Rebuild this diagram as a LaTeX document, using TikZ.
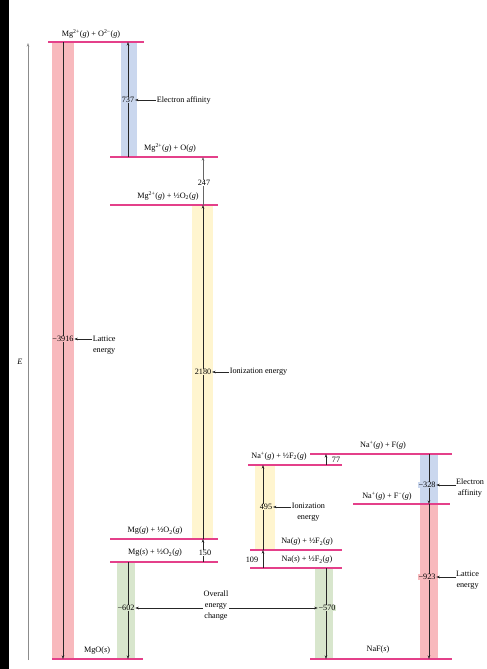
\documentclass[tikz,border=0pt]{standalone}
\usepackage{fontspec}
\setmainfont{Liberation Serif}
\usetikzlibrary{arrows.meta}
\definecolor{levelc}{HTML}{E4408A}
\definecolor{redf}{HTML}{F8B9BD}
\definecolor{bluef}{HTML}{CAD7EE}
\definecolor{yellf}{HTML}{FFF5CF}
\definecolor{greenf}{HTML}{D8E6CD}
\newcommand{\myhalf}{½}
\newcommand{\stg}{(\textit{g})}
\newcommand{\sts}{(\textit{s})}
\begin{document}
\begin{tikzpicture}[x=1pt,y=-1pt,
  every node/.style={font=\fontsize{8.2}{11}\selectfont, inner sep=0.6pt},
  level/.style={draw=levelc, line width=1.4pt},
  arr/.style={-{Stealth[length=3.5pt,width=2.5pt]}, line width=0.45pt, black!85},
  note/.style={align=center, anchor=west},
  val/.style={fill=#1}]
\fill[white] (0,0) rectangle (487,669);
\useasboundingbox (0,0) rectangle (487,669);
% columns
\fill[redf] (52,42) rectangle (74,659);
\fill[bluef] (121,42) rectangle (137,157);
\fill[yellf] (192,205) rectangle (213,539);
\fill[greenf] (117,562) rectangle (135,659);
\fill[yellf] (255,465) rectangle (275,550);
\fill[bluef] (420,454) rectangle (438,504);
\fill[redf] (420,504) rectangle (438,659);
\fill[greenf] (315,568) rectangle (333,659);
% axis
\coordinate (e0) at (28,660);
\coordinate (e1) at (28,43);
\draw[arr, black!45, line width=0.7pt] (e0) -- (e1);
\node (E) at (20,362) {\textit{E}};
% levels
\draw[level] (48,42) -- (144,42);
\draw[level] (110,157) -- (218,157);
\draw[level] (110,205) -- (218,205);
\draw[level] (110,539) -- (218,539);
\draw[level] (110,562) -- (218,562);
\draw[level] (52,659) -- (143,659);
\draw[level] (310,454) -- (452,454);
\draw[level] (248,465) -- (342,465);
\draw[level] (353,504) -- (450,504);
\draw[level] (250,550) -- (342,550);
\draw[level] (250,568) -- (342,568);
\draw[level] (310,659) -- (452,659);
% level labels
\node (l1) at (91,34) {Mg\textsuperscript{2+}\stg{} + O\textsuperscript{2−}\stg};
\node (l2) at (170,148) {Mg\textsuperscript{2+}\stg{} + O\stg};
\node (l3) at (168,196) {Mg\textsuperscript{2+}\stg{} + \myhalf O\textsubscript{2}\stg};
\node (l4) at (155,531) {Mg\stg{} + \myhalf O\textsubscript{2}\stg};
\node (l5) at (155,553) {Mg\sts{} + \myhalf O\textsubscript{2}\stg};
\node (l6) at (97,651) {MgO\sts};
\node (r1) at (383,445) {Na\textsuperscript{+}\stg{} + F\stg};
\node (r2) at (279,456) {Na\textsuperscript{+}\stg{} + \myhalf F\textsubscript{2}\stg};
\node (r3) at (387,496) {Na\textsuperscript{+}\stg{} + F\textsuperscript{−}\stg};
\node (r4) at (307,542) {Na\stg{} + \myhalf F\textsubscript{2}\stg};
\node (r5) at (307,560) {Na\sts{} + \myhalf F\textsubscript{2}\stg};
\node (r6) at (378,650) {NaF\sts};
% coordinates on levels
\coordinate (a1) at (63,42);   \coordinate (a2) at (63,659);
\coordinate (b1) at (128,157); \coordinate (b2) at (128,42);
\coordinate (c1) at (203,205); \coordinate (c2) at (203,157);
\coordinate (d1) at (203,539); \coordinate (d2) at (203,205);
\coordinate (f1) at (203,562); \coordinate (f2) at (203,539);
\coordinate (g1) at (128,562); \coordinate (g2) at (128,659);
\coordinate (h1) at (326,465); \coordinate (h2) at (326,454);
\coordinate (i1) at (263,550); \coordinate (i2) at (263,465);
\coordinate (j1) at (263,568); \coordinate (j2) at (263,550);
\coordinate (k1) at (429,454); \coordinate (k2) at (429,504);
\coordinate (m1) at (429,504); \coordinate (m2) at (429,659);
\coordinate (n1) at (326,568); \coordinate (n2) at (326,659);
% step arrows
\draw[arr] (a1) -- (a2);
\draw[arr] (b1) -- (b2);
\draw[arr, black!60] (c1) -- (c2);
\draw[arr] (d1) -- (d2);
\draw[arr] (f1) -- (f2);
\draw[arr] (g1) -- (g2);
\draw[arr] (h1) -- (h2);
\draw[arr] (i1) -- (i2);
\draw[arr] (j1) -- (j2);
\draw[arr] (k1) -- (k2);
\draw[arr] (m1) -- (m2);
\draw[arr] (n1) -- (n2);
% values
\node[val=redf] (v3916) at (63,339) {−3916};
\node[val=bluef] (v737) at (128,100) {737};
\node[val=white] (v247) at (204,183) {247};
\node[val=yellf] (v2180) at (203,372) {2180};
\node[val=white] (v150) at (205,553) {150};
\node[val=greenf] (v602) at (126,608) {−602};
\node[val=white] (v77) at (336,460) {77};
\node[val=yellf] (v495) at (266,507) {495};
\node[val=white] (v109) at (252,560) {109};
\node[val=bluef] (v328) at (427,485) {−328};
\node[val=redf] (v923) at (427,577) {−923};
\node[val=greenf] (v570) at (327,608) {−570};
% notes
\node[note] (n3916) at (92,345) {Lattice\\energy};
\draw[arr] (n3916.west |- v3916) -- (v3916.east);
\node[note] (n737) at (156,100) {Electron affinity};
\draw[arr] (n737.west) -- (v737.east);
\node[note] (n2180) at (229,372) {Ionization energy};
\draw[arr] (n2180.west) -- (v2180.east);
\node[note] (n495) at (291,512) {Ionization\\energy};
\draw[arr] (n495.west |- v495) -- (v495.east);
\node[note, inner sep=0pt] (n328) at (456,488) {Electron\\affinity};
\draw[arr] (n328.west |- v328) -- (v328.east);
\node[note, inner sep=0pt] (n923) at (456,580) {Lattice\\energy};
\draw[arr] (n923.west |- v923) -- (v923.east);
\node[align=center] (ov) at (216,606) {Overall\\energy\\change};
\draw[arr] (ov.west |- v602) -- (v602.east);
\draw[arr] (ov.east |- v570) -- (v570.west);
% dark strip at the left edge
\draw[black, line width=9pt] (4.5,0) -- (4.5,669);
\end{tikzpicture}
\end{document}
